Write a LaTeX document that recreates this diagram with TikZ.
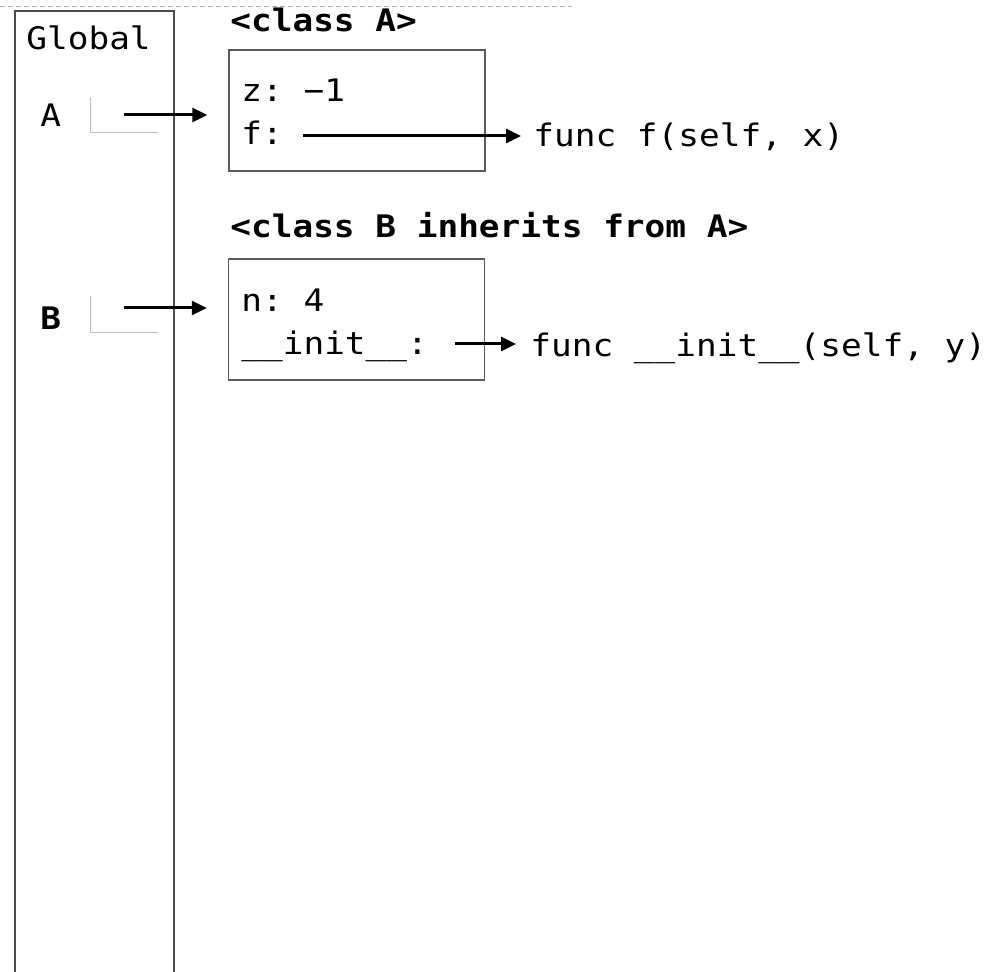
\documentclass[tikz,border=0pt]{standalone}
\usepackage{fontspec}
\setmonofont[FakeStretch=1.11]{DejaVu Sans Mono}
\usetikzlibrary{arrows.meta, calc}
\definecolor{frameGray}{HTML}{4A4A4A}
\definecolor{boxGray}{HTML}{5A5A5A}
\definecolor{slotGray}{HTML}{B4C2C8}
\definecolor{lineGray}{HTML}{B0B0B0}

\begin{document}
\begin{tikzpicture}[
    x=0.5pt, y=-0.5pt,
    font=\ttfamily\fontsize{15.5}{18}\selectfont,
    >={Triangle[length=7.5pt, width=7pt]},
    txt/.style={anchor=base west, inner sep=0pt},
    boldTxt/.style={txt, font=\ttfamily\bfseries\fontsize{15.5}{18}\selectfont},
    objBox/.style={
        draw=boxGray, line width=0.75pt, inner sep=0pt,
        minimum width=128pt, minimum height=60.5pt
    },
    frame/.style={draw=frameGray, line width=1pt},
    slot/.style={draw=slotGray, line width=0.5pt},
    ptr/.style={->, line width=1.5pt}
]
\useasboundingbox (0,0) rectangle (1003,972);

\draw[lineGray, line width=0.5pt, dash pattern=on 2.5pt off 1.5pt] (0,7) -- (572,7);

% global frame
\draw[frame] (15,972) |- (174,11) -- (174,972);
\node[txt] (globalLbl) at (26,50) {Global};

\node[txt] (nameA) at (40,127) {A};
\draw[slot] (90,97) |- (158,133);
\coordinate (ptrA) at (124,115);

\node[boldTxt] (nameB) at (40,330) {B};
\draw[slot] (90,296) |- (158,333);
\coordinate (ptrB) at (124,308);

% class A
\node[boldTxt] (titleA) at (230,32) {<class A>};
\node[objBox] (clsA) at (357,110.5) {};
\node[txt] (zKey) at (241,102) {z: −1};
\node[txt] (fKey) at (241,145) {f:};
\node[txt] (fnF) at (533,147) {func f(self, x)};
\coordinate (fSrc) at (303,136);

% class B
\node[boldTxt] (titleB) at (230,238) {<class B inherits from A>};
\node[objBox] (clsB) at (356.5,319.5) {};
\node[txt] (nKey) at (241,312) {n: 4};
\node[txt] (initKey) at (241,355) {\_\_init\_\_:};
\node[txt] (fnInit) at (530,357) {func \_\_init\_\_(self, y)};
\coordinate (initSrc) at (455,344);

\draw[ptr, shorten >=10.5pt] (ptrA) -- (ptrA -| clsA.west);
\draw[ptr, shorten >=10.5pt] (ptrB) -- (ptrB -| clsB.west);
\draw[ptr, shorten >=6pt] (fSrc) -- (fSrc -| fnF.west);
\draw[ptr, shorten >=7pt] (initSrc) -- (initSrc -| fnInit.west);

\end{tikzpicture}
\end{document}
